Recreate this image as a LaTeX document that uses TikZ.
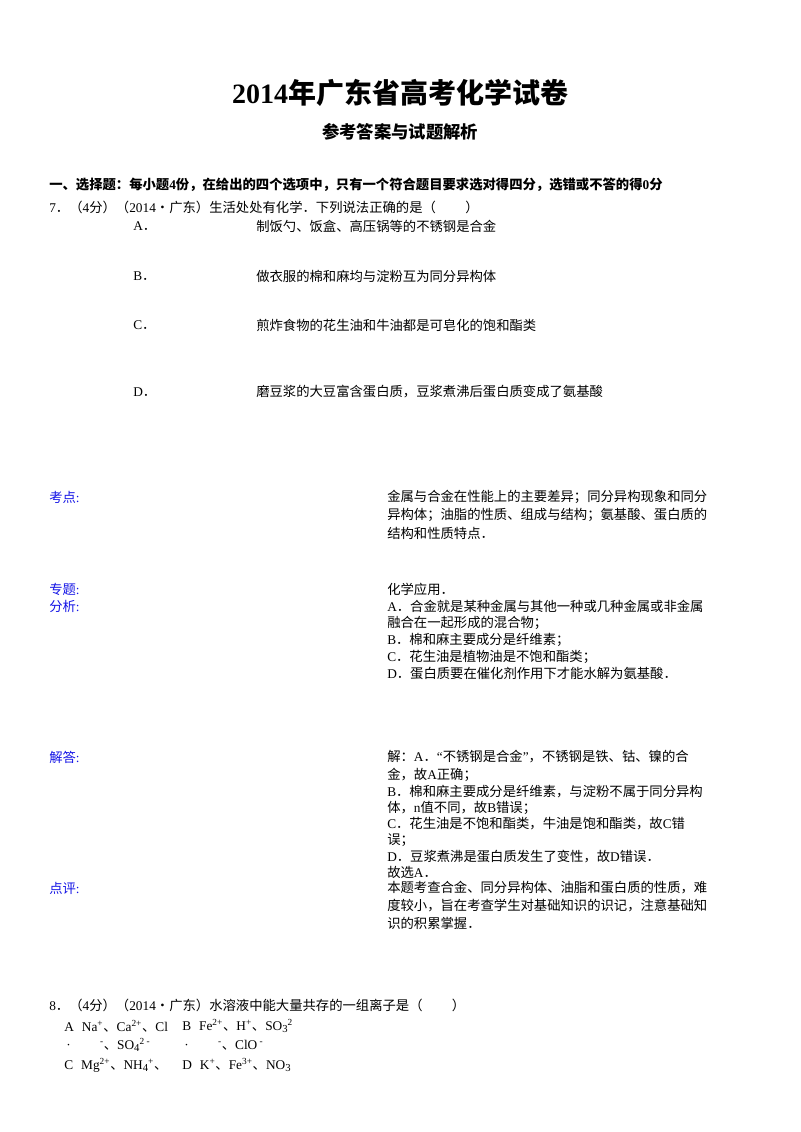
\documentclass[tikz,border=0pt]{standalone}
\usepackage{fontspec}
\setmainfont{Liberation Serif}
\newfontfamily\cjk{Noto Sans CJK SC}
\newfontfamily\lat{Liberation Serif}
\XeTeXinterchartokenstate=1
\newXeTeXintercharclass\mycjk
\count255="3000
\loop\XeTeXcharclass\count255=\mycjk\ifnum\count255<"9FFF\advance\count255 1\repeat
\count255="FF00
\loop\XeTeXcharclass\count255=\mycjk\ifnum\count255<"FFEF\advance\count255 1\repeat
\XeTeXcharclass"2022=\mycjk
\XeTeXinterchartoks 0 \mycjk={\cjk}
\XeTeXinterchartoks 4095 \mycjk={\cjk}
\XeTeXinterchartoks \mycjk 0={\lat}
\XeTeXinterchartoks 4095 0={\lat}
\definecolor{lblue}{RGB}{20,20,230}
\tikzset{t/.style={anchor=west,inner sep=0pt,font=\fontsize{10}{12}\selectfont},
 lab/.style={t,text=lblue}}
\def\su#1{\textsuperscript{#1}}
\def\sb#1{\raisebox{-0.4ex}{\footnotesize #1}}
\begin{document}
\begin{tikzpicture}[x=0.75pt,y=-0.75pt]
\useasboundingbox[fill=white] (0,0) rectangle (800,1132);
\node[t,anchor=center,font=\fontsize{21}{24}\selectfont\bfseries] (title) at (400,93) {2014年广东省高考化学试卷};
\node[t,anchor=center,font=\fontsize{13}{15}\selectfont\bfseries] (sub) at (400,132) {参考答案与试题解析};
\node[t,font=\fontsize{10}{12}\selectfont\bfseries] (sec) at (49,185) {一、选择题：每小题4份，在给出的四个选项中，只有一个符合题目要求选对得四分，选错或不答的得0分};
\node[t] (q7) at (49,207) {7．（4分）（2014•广东）生活处处有化学．下列说法正确的是（\hspace{2.2em}）};
\node[t] (a) at (133,226) {A．}; \node[t] (at) at (256,226) {制饭勺、饭盒、高压锅等的不锈钢是合金};
\node[t] (b) at (133,276) {B．}; \node[t] (bt) at (256,276) {做衣服的棉和麻均与淀粉互为同分异构体};
\node[t] (c) at (133,325) {C．}; \node[t] (ct) at (256,325) {煎炸食物的花生油和牛油都是可皂化的饱和酯类};
\node[t] (d) at (133,392) {D．}; \node[t] (dt) at (256,392) {磨豆浆的大豆富含蛋白质，豆浆煮沸后蛋白质变成了氨基酸};
\node[lab] (kd) at (49,497) {考点:};
\node[t] (k1) at (387,497) {金属与合金在性能上的主要差异；同分异构现象和同分};
\node[t] (k2) at (387,515) {异构体；油脂的性质、组成与结构；氨基酸、蛋白质的};
\node[t] (k3) at (387,533) {结构和性质特点．};
\node[lab] (zt) at (49,589) {专题:};
\node[lab] (fx) at (49,606) {分析:};
\node[t] (z1) at (387,589) {化学应用．};
\node[t] (f1) at (387,606) {A．合金就是某种金属与其他一种或几种金属或非金属};
\node[t] (f2) at (387,623) {融合在一起形成的混合物；};
\node[t] (f3) at (387,640) {B．棉和麻主要成分是纤维素；};
\node[t] (f4) at (387,657) {C．花生油是植物油是不饱和酯类；};
\node[t] (f5) at (387,673) {D．蛋白质要在催化剂作用下才能水解为氨基酸．};
\node[lab] (jd) at (49,757) {解答:};
\node[t] (j1) at (387,757) {解：A．“不锈钢是合金”，不锈钢是铁、钴、镍的合};
\node[t] (j2) at (387,775) {金，故A正确；};
\node[t] (j3) at (387,792) {B．棉和麻主要成分是纤维素，与淀粉不属于同分异构};
\node[t] (j4) at (387,808) {体，n值不同，故B错误；};
\node[t] (j5) at (387,824) {C．花生油是不饱和酯类，牛油是饱和酯类，故C错};
\node[t] (j6) at (387,840) {误；};
\node[t] (j7) at (387,857) {D．豆浆煮沸是蛋白质发生了变性，故D错误．};
\node[t] (j8) at (387,872) {故选A．};
\node[lab] (dp) at (49,888) {点评:};
\node[t] (p1) at (387,888) {本题考查合金、同分异构体、油脂和蛋白质的性质，难};
\node[t] (p2) at (387,906) {度较小，旨在考查学生对基础知识的识记，注意基础知};
\node[t] (p3) at (387,923) {识的积累掌握．};
\node[t] (q8) at (49,1005) {8．（4分）（2014•广东）水溶液中能大量共存的一组离子是（\hspace{2.2em}）};
\node[t] (oa) at (64,1026) {A\hspace{0.6em}Na\su{+}、Ca\su{2+}、Cl};
\node[t] (ob) at (182,1026) {B\hspace{0.6em}Fe\su{2+}、H\su{+}、SO\sb{3}\su{2}};
\node[t] (oa2) at (66,1045) {·\hspace{2.2em}\su{-}、SO\sb{4}\su{2 -}};
\node[t] (ob2) at (184,1045) {·\hspace{2.2em}\su{-}、ClO\su{ -}};
\node[t] (oc) at (64,1065) {C\hspace{0.6em}Mg\su{2+}、NH\sb{4}\su{+}、};
\node[t] (od) at (182,1065) {D\hspace{0.6em}K\su{+}、Fe\su{3+}、NO\sb{3}};
\end{tikzpicture}
\end{document}
